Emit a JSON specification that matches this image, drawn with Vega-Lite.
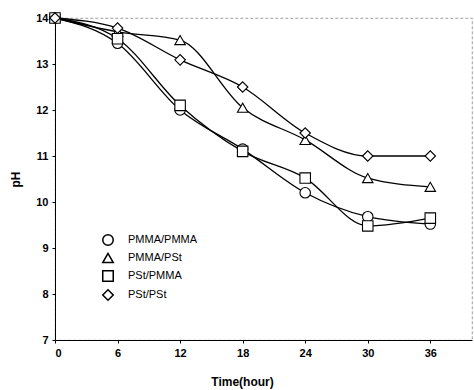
{
  "$schema": "https://vega.github.io/schema/vega-lite/v6.json",
  "autosize": "none",
  "width": 417,
  "height": 322,
  "padding": {"left": 55, "top": 18, "right": 2, "bottom": 50},
  "background": "white",
  "config": {
    "font": "Liberation Sans",
    "view": {"stroke": "#888", "strokeDash": [3, 2], "strokeWidth": 0.8}
  },
  "data": {
    "values": [
      {"series": "PMMA/PMMA", "time": 0, "pH": 14.0},
      {"series": "PMMA/PMMA", "time": 6, "pH": 13.45},
      {"series": "PMMA/PMMA", "time": 12, "pH": 12.0},
      {"series": "PMMA/PMMA", "time": 18, "pH": 11.15},
      {"series": "PMMA/PMMA", "time": 24, "pH": 10.2},
      {"series": "PMMA/PMMA", "time": 30, "pH": 9.68},
      {"series": "PMMA/PMMA", "time": 36, "pH": 9.52},
      {"series": "PMMA/PSt", "time": 0, "pH": 14.0},
      {"series": "PMMA/PSt", "time": 6, "pH": 13.7},
      {"series": "PMMA/PSt", "time": 12, "pH": 13.52},
      {"series": "PMMA/PSt", "time": 18, "pH": 12.05},
      {"series": "PMMA/PSt", "time": 24, "pH": 11.35},
      {"series": "PMMA/PSt", "time": 30, "pH": 10.52},
      {"series": "PMMA/PSt", "time": 36, "pH": 10.33},
      {"series": "PSt/PMMA", "time": 0, "pH": 14.0},
      {"series": "PSt/PMMA", "time": 6, "pH": 13.55},
      {"series": "PSt/PMMA", "time": 12, "pH": 12.1},
      {"series": "PSt/PMMA", "time": 18, "pH": 11.1},
      {"series": "PSt/PMMA", "time": 24, "pH": 10.52},
      {"series": "PSt/PMMA", "time": 30, "pH": 9.48},
      {"series": "PSt/PMMA", "time": 36, "pH": 9.65},
      {"series": "PSt/PSt", "time": 0, "pH": 14.0},
      {"series": "PSt/PSt", "time": 6, "pH": 13.78},
      {"series": "PSt/PSt", "time": 12, "pH": 13.09},
      {"series": "PSt/PSt", "time": 18, "pH": 12.5},
      {"series": "PSt/PSt", "time": 24, "pH": 11.5},
      {"series": "PSt/PSt", "time": 30, "pH": 11.0},
      {"series": "PSt/PSt", "time": 36, "pH": 11.0}
    ]
  },
  "encoding": {
    "x": {
      "field": "time", "type": "quantitative",
      "scale": {"domain": [0, 40], "nice": false},
      "axis": {
        "values": [0, 6, 12, 18, 24, 30, 36], "grid": false,
        "title": "Time(hour)", "titleFontSize": 12, "titleFontWeight": "bold",
        "titleX": 187, "titleY": 41, "titleBaseline": "middle", "titleColor": "black",
        "labelFontSize": 11, "labelFontWeight": "bold", "labelColor": "black",
        "domainColor": "black", "tickColor": "black", "tickSize": 3, "labelPadding": 4
      }
    },
    "y": {
      "field": "pH", "type": "quantitative",
      "scale": {"domain": [7, 14], "nice": false, "zero": false},
      "axis": {
        "values": [7, 8, 9, 10, 11, 12, 13, 14], "grid": false,
        "title": "pH", "titleFontSize": 12, "titleFontWeight": "bold",
        "titleX": -40, "titleY": 161, "titleBaseline": "middle", "titleColor": "black",
        "labelFontSize": 11, "labelFontWeight": "bold", "labelColor": "black",
        "domainColor": "black", "tickColor": "black", "tickSize": 3, "labelPadding": 4
      }
    }
  },
  "layer": [
    {
      "mark": {"type": "line", "interpolate": "monotone", "color": "black", "strokeWidth": 1.3},
      "encoding": {"detail": {"field": "series", "type": "nominal"}}
    },
    {
      "mark": {"type": "point", "filled": false, "fill": "white", "fillOpacity": 1, "color": "black", "stroke": "black", "strokeWidth": 1.1, "size": 110, "opacity": 1},
      "encoding": {
        "shape": {
          "field": "series", "type": "nominal",
          "scale": {
            "domain": ["PMMA/PMMA", "PMMA/PSt", "PSt/PMMA", "PSt/PSt"],
            "range": ["circle", "triangle-up", "square", "diamond"]
          },
          "legend": {
            "title": null, "orient": "none", "legendX": 47, "legendY": 216,
            "labelFontSize": 11, "labelColor": "black", "labelOffset": 14,
            "rowPadding": 1, "symbolSize": 110,
            "encode": {
              "symbols": {
                "update": {
                  "stroke": {"value": "black"},
                  "fill": {"value": "white"},
                  "strokeWidth": {"value": 1.1},
                  "opacity": {"value": 1},
                  "fillOpacity": {"value": 1},
                  "strokeOpacity": {"value": 1}
                }
              }
            }
          }
        }
      }
    }
  ]
}
